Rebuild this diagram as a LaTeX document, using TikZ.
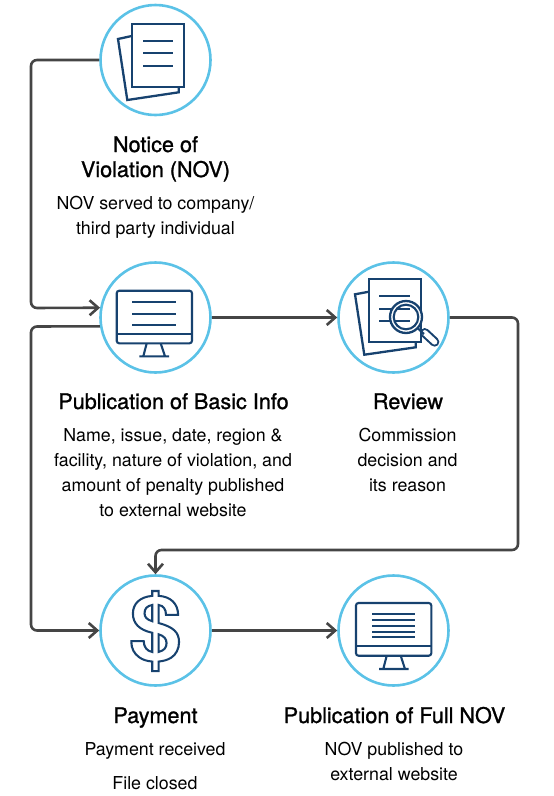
\documentclass[tikz,border=0pt]{standalone}
\usepackage{fontspec}
\setmainfont{TeX Gyre Heros}
\newfontfamily\titlefont[FakeBold=1.1]{TeX Gyre Heros}
\newfontfamily\dollarfont{TeX Gyre Heros}[BoldFont={TeX Gyre Heros Bold}]
\usetikzlibrary{arrows.meta}
\definecolor{ringblue}{HTML}{5BC2E7}
\definecolor{navy}{HTML}{17426F}
\definecolor{conn}{HTML}{454545}
\tikzset{
  ring/.style={circle,draw=ringblue,line width=2.6pt,minimum size=110pt,inner sep=0pt,outer sep=1.3pt},
  link/.style={draw=conn,line width=2.6pt,rounded corners=6pt},
  linkarrow/.style={link,-{Straight Barb[length=8.5pt,width=15pt,line width=2.6pt]}},
  ico/.style={draw=navy,line width=2.3pt,line join=miter},
  icothin/.style={draw=navy,line width=2.1pt},
  title/.style={font=\fontsize{21.6}{25}\titlefont,align=center,anchor=base,inner sep=0pt},
  body/.style={font=\fontsize{17.8}{25}\selectfont,align=center,anchor=base,inner sep=0pt},
}
\begin{document}
\begin{tikzpicture}[x=1pt,y=-1pt]
\useasboundingbox (0,0) rectangle (554,796);
% circles
\node[ring] (nov) at (155.5,60) {};
\node[ring] (pub) at (155.5,317.5) {};
\node[ring] (rev) at (393.5,317.5) {};
\node[ring] (pay) at (155.5,630.5) {};
\node[ring] (full) at (393.5,630.5) {};
% corner helpers
\coordinate (c1) at (31,60);
\coordinate (c2) at (31,308);
\coordinate (c3) at (31,326.5);
\coordinate (c4) at (31,630.5);
\coordinate (c5) at (518,317.5);
\coordinate (c6) at (518,550);
\coordinate (c7) at (155.5,550);
% connectors
\draw[linkarrow] (nov.west) -- (c1) -- (c2) -- (pub.170);
\draw[linkarrow] (pub.189.5) -- (c3) -- (c4) -- (pay.west);
\draw[linkarrow] (pub.east) -- (rev.west);
\draw[linkarrow] (rev.east) -- (c5) -- (c6) -- (c7) -- (pay.north);
\draw[linkarrow] (pay.east) -- (full.west);
% icon: documents
\draw[ico] (131.7,36) -- (118,39) -- (127.3,100) -- (178.7,92.3) -- (178.7,86.7);
\draw[ico] (131.7,24) rectangle (184.3,86.7);
\draw[icothin] (143,41) -- (172.7,41) (143,53.3) -- (172.7,53.3) (143,66) -- (172.7,66);
% icon: monitor basic
\draw[icothin,rounded corners=2.5pt] (116.7,290.7) rectangle (192,343.3);
\draw[icothin] (116.7,334.3) -- (192,334.3);
\draw[icothin] (132.3,302) -- (175.7,302) (132.3,313.7) -- (175.7,313.7) (132.3,325.3) -- (175.7,325.3);
\draw[icothin] (146.7,343.3) -- (143.3,356.3) (160.7,343.3) -- (165,356.3) (139.3,356.3) -- (169,356.3);
% icon: review
\draw[ico] (369,291.7) -- (355,294.3) -- (364.3,354.7) -- (415.7,347.3) -- (415.7,342);
\draw[ico] (369,279.3) rectangle (421.3,342);
\draw[icothin] (379.3,296.3) -- (410,296.3) (379.3,308.7) -- (410,308.7) (379.3,321.3) -- (410,321.3);
\draw[navy,line width=9.5pt,line cap=round] (424.8,332.8) -- (434.6,341.9);
\draw[white,line width=5.4pt,line cap=round] (424.8,332.8) -- (434.6,341.9);
\draw[navy,line width=2.2pt] (418,328.5) -- (424,334);
\draw[ico,fill=white] (406,317) circle (16);
\draw[icothin] (406,317) circle (12.3);
\begin{scope}
\clip (406,317) circle (12.3);
\draw[icothin] (379.3,308.7) -- (410,308.7) (379.3,321.3) -- (410,321.3);
\end{scope}
% icon: dollar
\node[inner sep=0pt,text=navy,anchor=center,xscale=1.05] (dollar) at (155.5,631)
  {\fontsize{90}{90}\dollarfont\bfseries\special{pdf:code 1 Tr 2 w}\$\special{pdf:code 0 Tr}};
% icon: monitor full
\draw[icothin,rounded corners=2.5pt] (356,603) rectangle (431.3,655.7);
\draw[icothin] (356,646.3) -- (431.3,646.3);
\draw[icothin] (372.3,613.7) -- (415.3,613.7) (372.3,619.7) -- (415.3,619.7) (372.3,625.7) -- (415.3,625.7) (372.3,631.7) -- (415.3,631.7) (372.3,637.3) -- (415.3,637.3);
\draw[icothin] (386.7,655.7) -- (383.3,669) (400.7,655.7) -- (405,669) (379,669) -- (408.7,669);
% texts
\node[title] (t1) at (155.5,177) {Notice of\\Violation (NOV)};
\node[body] (b1) at (155.5,234) {NOV served to company/\\third party individual};
\node[title] (t2) at (173.5,409) {Publication of Basic Info};
\node[body] (b2) at (173,516) {Name, issue, date, region \&\\facility, nature of violation, and\\amount of penalty published\\to external website};
\node[title] (t3) at (408,409) {Review};
\node[body] (b3) at (407.5,491) {Commission\\decision and\\its reason};
\node[title] (t4) at (155.5,723) {Payment};
\node[body] (b4) at (155,755) {Payment received};
\node[body] (b5) at (155,789) {File closed};
\node[title] (t5) at (394.5,723) {Publication of Full NOV};
\node[body] (b6) at (394,780) {NOV published to\\external website};
\end{tikzpicture}
\end{document}
